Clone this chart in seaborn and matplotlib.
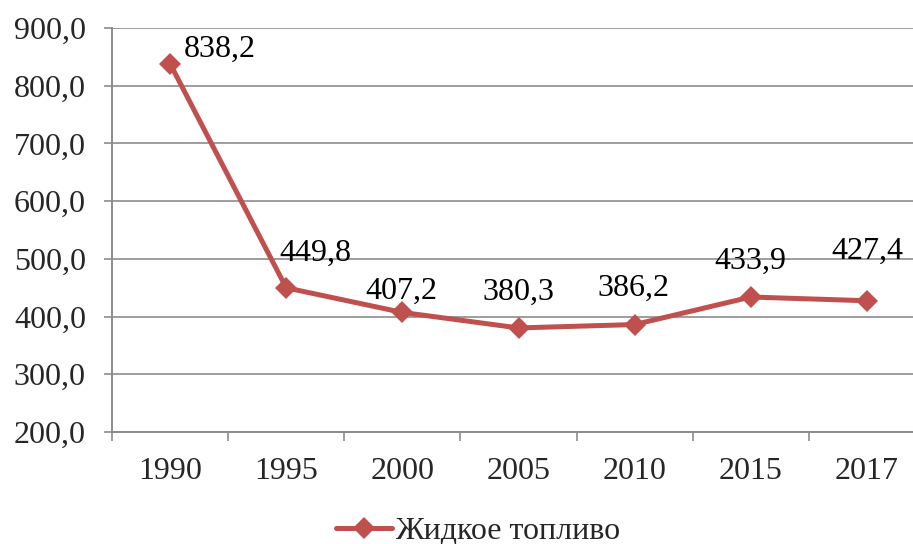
import matplotlib
matplotlib.use("Agg")
import matplotlib.pyplot as plt
import seaborn as sns
import pandas as pd
from matplotlib.ticker import FixedLocator, FuncFormatter

# Liquid fuel, by year
years = ["1990", "1995", "2000", "2005", "2010", "2015", "2017"]
values = [838.2, 449.8, 407.2, 380.3, 386.2, 433.9, 427.4]
series_name = "Жидкое топливо"

y_ticks = [200, 300, 400, 500, 600, 700, 800, 900]

# label placement relative to each point (pixels)
label_dx = [50, 29, -1, 0, -1, 0, 0]
label_dy = [14, 35, 21, 36, 36, 36, 49]

sns.set_theme(style="white")
plt.rcParams["font.family"] = ["Liberation Serif", "DejaVu Serif"]

line_color = "#C0504D"
grid_color = "#8C8C8C"
fs = 23

df = pd.DataFrame({"year": years, "value": values, "series": series_name})

fig = plt.figure(figsize=(9.13, 5.44), dpi=100)
ax = fig.add_axes([112 / 913, 112 / 544, 813 / 913, 404 / 544])

sns.lineplot(data=df, x="year", y="value", hue="series", palette=[line_color],
             marker="D", markersize=11, markeredgewidth=0, linewidth=3.6,
             sort=False, ax=ax, legend=False)

ax.set_xlim(-0.5, len(years) - 0.5)
ax.set_ylim(200, 900)
ax.set_xlabel("")
ax.set_ylabel("")

# y axis
ax.yaxis.set_major_locator(FixedLocator(y_ticks))
ax.yaxis.set_major_formatter(FuncFormatter(lambda v, p: f"{v:.1f}".replace(".", ",")))
ax.grid(axis="y", color=grid_color, linewidth=1.2)
ax.grid(axis="x", visible=False)
ax.tick_params(axis="y", which="major", length=5.8, width=1.2, color=grid_color,
               labelsize=fs, pad=13, direction="out", left=True)

# x axis: labels at categories, tick marks at category boundaries
ax.set_xticks(range(len(years)))
ax.set_xticklabels(years)
ax.set_xticks([i - 0.5 for i in range(len(years) + 1)], minor=True)
ax.tick_params(axis="x", which="major", length=0, labelsize=fs, pad=18)
ax.tick_params(axis="x", which="minor", length=6.5, width=1.2, color=grid_color,
               direction="out", bottom=True)

for side in ["top", "right"]:
    ax.spines[side].set_visible(False)
for side in ["left", "bottom"]:
    ax.spines[side].set_color(grid_color)
    ax.spines[side].set_linewidth(1.4)
ax.set_axisbelow(True)

# value labels
for i, v in enumerate(values):
    ax.annotate(f"{v:.1f}".replace(".", ","), xy=(i, v),
                xytext=(label_dx[i], label_dy[i]), textcoords="offset pixels",
                ha="center", va="center", fontsize=fs, color="black")

# legend at the bottom
handle = plt.Line2D([], [], color=line_color, linewidth=3.6, marker="D",
                    markersize=11, markeredgewidth=0)
fig.legend([handle], [series_name], loc="center", bbox_to_anchor=(478 / 913, 1 - 531 / 544),
           frameon=False, fontsize=fs, handlelength=1.75, handletextpad=0.1,
           borderpad=0, borderaxespad=0)

fig.savefig("out.png", dpi=100)
